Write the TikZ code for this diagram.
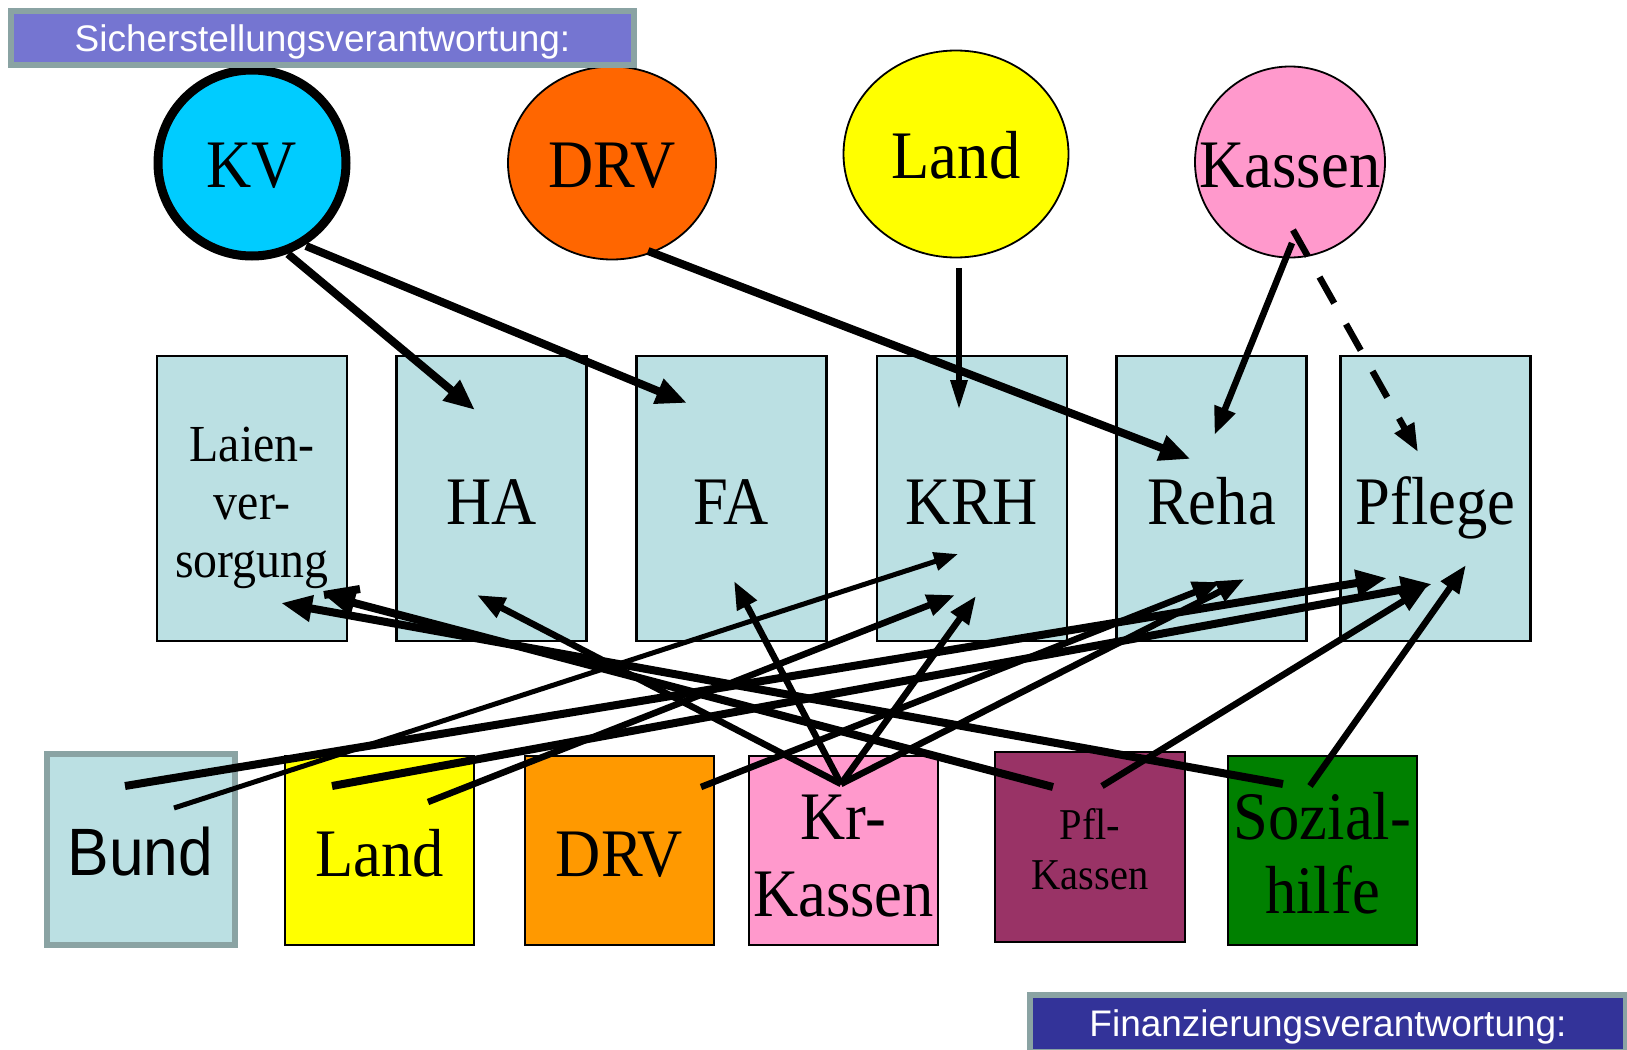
\documentclass[tikz,border=0pt]{standalone}
\usepackage{fontspec}
\setmainfont[Ligatures=NoCommon]{Liberation Serif}
\newfontfamily\tnr[FakeStretch=0.92,Ligatures=NoCommon]{Liberation Serif}
\newfontfamily\arialc[FakeStretch=0.93]{Liberation Sans}
\newfontfamily\arialn{Liberation Sans}
\usetikzlibrary{shapes.geometric,arrows.meta}
\definecolor{lblue}{HTML}{BBE0E3}
\definecolor{cgray}{HTML}{8AA3A3}
\definecolor{cban1}{HTML}{7575D1}
\definecolor{cban2}{HTML}{333399}
\definecolor{ckv}{HTML}{00CCFF}
\definecolor{cdrv}{HTML}{FF6600}
\definecolor{cland}{HTML}{FFFF00}
\definecolor{ckass}{HTML}{FF99CC}
\definecolor{cdrvb}{HTML}{FF9900}
\definecolor{cpk}{HTML}{993366}
\definecolor{csh}{HTML}{008000}
\newcommand\stk[1]{\vbox{\halign{\hfil##\hfil\cr#1\crcr}}}
\tikzset{
  circ/.style={ellipse, draw=black, line width=1.8pt, inner sep=0pt, text depth=0pt, text height=48pt,
    font=\tnr\fontsize{68}{75}\selectfont},
  midbox/.style={rectangle, draw=black, line width=2.2pt, fill=lblue, inner sep=0pt,
    minimum width=190pt, minimum height=285pt, text depth=0pt, text height=52pt,
    font=\tnr\fontsize{68}{75}\selectfont},
  botbox/.style={rectangle, draw=black, line width=2.2pt, inner sep=0pt,
    minimum width=189pt, minimum height=189pt, text depth=0pt, text height=51pt,
    font=\tnr\fontsize{68}{75}\selectfont},
  banner/.style={rectangle, draw=cgray, line width=6pt, inner sep=0pt, text=white,
    font=\arialn\fontsize{37}{44}\selectfont, text height=27pt, text depth=0pt},
  a6/.style={line width=8pt, -{Triangle[length=31pt,width=25pt]}},
  a5/.style={line width=6.5pt, -{Triangle[length=28pt,width=21pt]}},
  a4/.style={line width=5pt, -{Triangle[length=24pt,width=18pt]}},
}
\begin{document}
\begin{tikzpicture}[x=1pt,y=-1pt]
\useasboundingbox (0,0) rectangle (1627,1049);
\fill[white] (0,0) rectangle (1627,1049);

% middle row
\node[midbox, text height=157pt] (laien) at (252,498.5)
  {\fontsize{52}{58}\selectfont\stk{Laien-\cr ver-\cr sorgung}};
\node[midbox] (ha) at (491.5,498.5) {HA};
\node[midbox] (fa) at (731.5,498.5) {FA};
\node[midbox] (krh) at (972,498.5) {KRH};
\node[midbox] (reha) at (1211.5,498.5) {Reha};
\node[midbox] (pflege) at (1435.5,498.5) {Pflege};

% bottom row
\node[botbox, draw=cgray, line width=6pt, fill=lblue, minimum width=188pt, minimum height=191pt,
  text height=52pt, font=\arialc\fontsize{67}{75}\selectfont] (bund) at (140.5,849) {Bund};
\node[botbox, fill=cland] (landb) at (379.5,850.5) {Land};
\node[botbox, fill=cdrvb] (drvb) at (619.5,850.5) {DRV};
\node[botbox, fill=ckass, text height=131pt] (kk) at (843.5,850.5)
  {\fontsize{68}{77}\selectfont\stk{Kr-\cr Kassen}};
\node[botbox, fill=cpk, minimum width=190pt, minimum height=190pt, text height=85pt] (pk) at (1090,847)
  {\fontsize{44}{50}\selectfont\stk{Pfl-\cr Kassen}};
\node[botbox, fill=csh, text height=125pt] (sh) at (1322.5,850.5)
  {\fontsize{68}{74}\selectfont\stk{Sozial-\cr hilfe}};

% circles
\node[circ, fill=ckv, line width=9pt, minimum width=188pt, minimum height=186pt] (kv) at (252,163) {\makebox[0pt]{KV}};
\node[circ, fill=cdrv, minimum width=208pt, minimum height=193pt] (drv) at (612,163) {\makebox[0pt]{DRV}};
\node[circ, fill=cland, minimum width=225pt, minimum height=207pt] (land) at (956,154) {\makebox[0pt]{Land}};
\node[circ, fill=ckass, minimum width=190pt, minimum height=191pt, text height=50pt] (kassen) at (1290,162) {\makebox[0pt]{Kassen}};

% top arrows
\draw[a6] ([shift={(36,91)}]kv.center) -- ([shift={(-16.5,-88.5)}]ha.center);
\draw[a6] ([shift={(54,83)}]kv.center) -- ([shift={(-44.5,-95.5)}]fa.center);
\draw[a6] ([shift={(36,88)}]drv.center) -- ([shift={(-21,-39.5)}]reha.center);
\draw[line width=6pt, -{Triangle[length=30pt,width=16pt]}] ([shift={(3,114)}]land.center) -- ([shift={(-13,-88.5)}]krh.center);
\draw[a5] ([shift={(2,81)}]kassen.center) -- ([shift={(3,-63.5)}]reha.center);
\draw[a5, dash pattern=on 30pt off 24pt] ([shift={(3,68)}]kassen.center) -- ([shift={(-17.5,-46.5)}]pflege.center);

% bottom arrows
\draw[a6] ([shift={(-15.5,-63)}]bund.center) -- ([shift={(-48.5,79.5)}]pflege.center);
\draw[a4] ([shift={(33.5,-41)}]bund.center) -- ([shift={(-14,55.5)}]krh.center);
\draw[a6] ([shift={(-47.5,-64.5)}]landb.center) -- ([shift={(-3.5,85.5)}]pflege.center);
\draw[a5] ([shift={(48.5,-48.5)}]landb.center) -- ([shift={(-17,96.5)}]krh.center);
\draw[a5] ([shift={(81.5,-63.5)}]drvb.center) -- ([shift={(9,83.5)}]reha.center);
\draw[a5] ([shift={(-2.5,-66.5)}]kk.center) -- ([shift={(-14.5,96.5)}]ha.center);
\draw[a5] ([shift={(-2.5,-66.5)}]kk.center) -- ([shift={(2.5,82.5)}]fa.center);
\draw[a5] ([shift={(-2.5,-66.5)}]kk.center) -- ([shift={(4,97.5)}]krh.center);
\draw[a5] ([shift={(-2.5,-66.5)}]kk.center) -- ([shift={(33,80.5)}]reha.center);
\draw[a6] ([shift={(-37,-60)}]pk.center) -- ([shift={(72,96.5)}]laien.center);
\draw[line width=8pt] ([shift={(72,96.5)}]laien.center) -- ([shift={(108,90.5)}]laien.center);
\draw[a5] ([shift={(12,-61)}]pk.center) -- ([shift={(-8.5,88)}]pflege.center);
\draw[a6] ([shift={(-39.5,-66.5)}]sh.center) -- ([shift={(29,104.5)}]laien.center);
\draw[a5] ([shift={(-12.5,-64.5)}]sh.center) -- ([shift={(30.5,66.5)}]pflege.center);

% banners
\node[banner, fill=cban1, minimum width=623pt, minimum height=54pt] (sich) at (322.5,38) {Sicherstellungsverantwortung:};
\node[banner, fill=cban2, minimum width=596pt, minimum height=57pt] (fin) at (1328,1023) {Finanzierungsverantwortung:};
\end{tikzpicture}
\end{document}
